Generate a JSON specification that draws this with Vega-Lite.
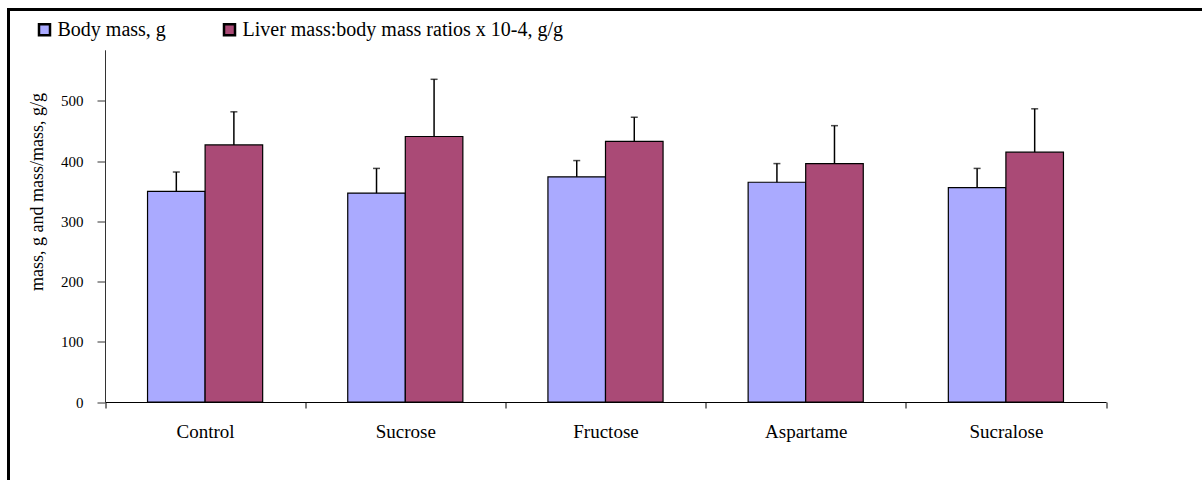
{
  "$schema": "https://vega.github.io/schema/vega-lite/v6.json",
  "width": 1200,
  "height": 480,
  "autosize": {"type": "none"},
  "padding": {"left": 8.5, "top": 9.5, "right": 0, "bottom": 0},
  "background": "white",
  "config": {
    "view": {"stroke": "black", "strokeWidth": 3},
    "font": "Liberation Serif",
    "axis": {"labelFont": "Liberation Serif", "titleFont": "Liberation Serif", "labelColor": "black", "titleColor": "black", "grid": false}
  },
  "data": {
    "values": [
      {"group": "Control", "series": "Body mass, g", "value": 350, "upper": 382},
      {"group": "Control", "series": "Liver mass:body mass ratios x 10-4, g/g", "value": 427, "upper": 482},
      {"group": "Sucrose", "series": "Body mass, g", "value": 347, "upper": 388},
      {"group": "Sucrose", "series": "Liver mass:body mass ratios x 10-4, g/g", "value": 441, "upper": 536},
      {"group": "Fructose", "series": "Body mass, g", "value": 374, "upper": 401},
      {"group": "Fructose", "series": "Liver mass:body mass ratios x 10-4, g/g", "value": 433, "upper": 473},
      {"group": "Aspartame", "series": "Body mass, g", "value": 365, "upper": 396},
      {"group": "Aspartame", "series": "Liver mass:body mass ratios x 10-4, g/g", "value": 396, "upper": 459},
      {"group": "Sucralose", "series": "Body mass, g", "value": 356, "upper": 388},
      {"group": "Sucralose", "series": "Liver mass:body mass ratios x 10-4, g/g", "value": 415, "upper": 487}
    ]
  },
  "encoding": {
    "x": {
      "field": "group",
      "type": "nominal",
      "sort": ["Control", "Sucrose", "Fructose", "Aspartame", "Sucralose"],
      "scale": {"range": [96.5, 1097.5], "paddingInner": 0, "paddingOuter": 0},
      "axis": {
        "title": null,
        "orient": "bottom",
        "offset": -87.5,
        "tickBand": "extent",
        "tickSize": 6,
        "tickColor": "black",
        "domainColor": "black",
        "domainWidth": 1.2,
        "labelAngle": 0,
        "labelFontSize": 19,
        "labelPadding": 14
      }
    },
    "xOffset": {
      "field": "series",
      "type": "nominal",
      "sort": ["Body mass, g", "Liver mass:body mass ratios x 10-4, g/g"],
      "scale": {"paddingInner": 0, "paddingOuter": 0.739}
    }
  },
  "layer": [
    {
      "mark": {"type": "bar", "stroke": "black", "strokeWidth": 1.2},
      "encoding": {
        "y": {
          "field": "value",
          "type": "quantitative",
          "scale": {"domain": [0, 585], "range": [392.5, 40.3], "nice": false, "zero": true},
          "axis": {
            "orient": "left",
            "offset": -96.5,
            "values": [0, 100, 200, 300, 400, 500],
            "tickSize": 8,
            "tickColor": "#333333",
            "domainColor": "#333333",
            "labelFontSize": 15,
            "labelPadding": 14,
            "title": "mass, g and  mass/mass, g/g",
            "titleFontSize": 18,
            "titleFontWeight": "normal",
            "titleAngle": -90,
            "titleAlign": "center",
            "titleBaseline": "middle",
            "titleX": -68,
            "titleY": 182
          }
        },
        "color": {
          "field": "series",
          "type": "nominal",
          "sort": ["Body mass, g", "Liver mass:body mass ratios x 10-4, g/g"],
          "scale": {"domain": ["Body mass, g", "Liver mass:body mass ratios x 10-4, g/g"], "range": ["#AAAAFF", "#AA4A76"]},
          "legend": {
            "title": null,
            "orient": "none",
            "legendX": 26,
            "legendY": 10,
            "direction": "horizontal",
            "columns": 2,
            "columnPadding": 52,
            "padding": 0,
            "symbolType": "square",
            "symbolSize": 121,
            "symbolStrokeColor": "black",
            "symbolStrokeWidth": 2.5,
            "labelFont": "Liberation Serif",
            "labelFontSize": 20,
            "labelColor": "black",
            "labelOffset": 3,
            "labelLimit": 600
          }
        }
      }
    },
    {
      "mark": {"type": "rule", "color": "black", "strokeWidth": 1.5},
      "encoding": {
        "y": {"field": "value", "type": "quantitative"},
        "y2": {"field": "upper"}
      }
    },
    {
      "mark": {"type": "tick", "color": "black", "thickness": 1.5, "size": 7},
      "encoding": {
        "y": {"field": "upper", "type": "quantitative"}
      }
    }
  ]
}
